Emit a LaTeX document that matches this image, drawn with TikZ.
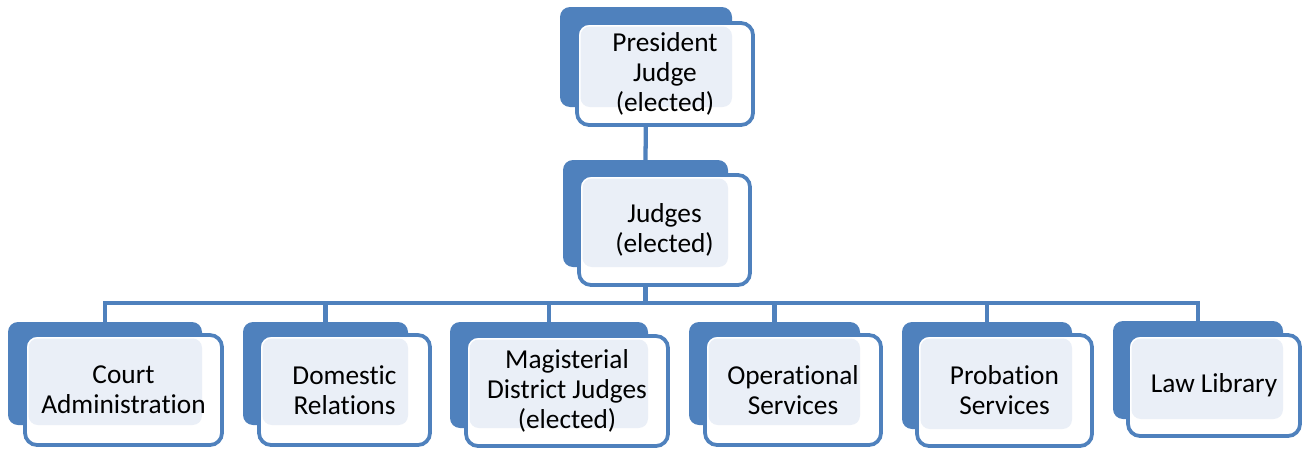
\documentclass[tikz,border=0pt]{standalone}
\usepackage{fontspec}
\setmainfont{Carlito}[Ligatures=NoCommon]
\usetikzlibrary{fit,calc,backgrounds}

\definecolor{orgblue}{HTML}{4F81BD}
\definecolor{orglight}{HTML}{EAEFF7}

\tikzset{
  backbox/.style={fill=orgblue, rounded corners=7.5pt, inner sep=0pt, outer sep=0pt},
  frontbox/.style={draw=orgblue, line width=2.8pt, rounded corners=9pt, inner sep=0pt,
    outer sep=0pt, align=center, font=\fontsize{20.5}{22.5}\selectfont},
  fsize/.style 2 args={minimum width=#1*0.75pt, minimum height=#2*0.75pt},
  link/.style={draw=orgblue, line width=3.2pt},
}

\begin{document}
\begin{tikzpicture}[x=0.75pt, y=-0.75pt]
  \useasboundingbox (0,0) rectangle (1304,450);

  % Drawing front boxes with their texts
  \node[frontbox, fsize={176}{102}] (pres) at (665,74) {President\\Judge\\(elected)};
  \node[frontbox, fsize={171}{110}] (judges) at (664.5,230) {Judges\\(elected)};
  \node[frontbox, fsize={197}{110}] (court) at (123.5,390) {Court\\Administration};
  \node[frontbox, fsize={171}{110}] (domestic) at (344.5,390) {Domestic\\Relations};
  \node[frontbox, fsize={202}{110}] (mdj) at (567,391) {Magisterial\\District Judges\\(elected)};
  \node[frontbox, fsize={176}{110}] (oper) at (793,390) {Operational\\Services};
  \node[frontbox, fsize={175}{111}] (prob) at (1004.5,390.5) {Probation\\Services};
  \node[frontbox, fsize={172}{101}] (lawlib) at (1214,385.5) {Law Library};

  \begin{pgfonlayer}{background}
    % Drawing back boxes
    \node[backbox, fit={(560,7) (732,107)}] (pres-b) {};
    \node[backbox, fit={(563,160) (728,267)}] (judges-b) {};
    \node[backbox, fit={(8,322) (202,425)}] (court-b) {};
    \node[backbox, fit={(243,322) (408,425)}] (domestic-b) {};
    \node[backbox, fit={(450,322) (648,428)}] (mdj-b) {};
    \node[backbox, fit={(689,322) (860,425)}] (oper-b) {};
    \node[backbox, fit={(902,322) (1072,429)}] (prob-b) {};
    \node[backbox, fit={(1113,321) (1283,419)}] (lawlib-b) {};

    % Drawing connectors
    \draw[link] (pres-b.south) -- (judges-b.north);
    \foreach \c in {court,domestic,mdj,oper,prob,lawlib}
      \draw[link] (judges-b.south) -- ++(0,36) -| (\c-b.north);

    % Filling front boxes
    \foreach \c in {pres,judges,court,domestic,mdj,oper,prob,lawlib} {
      \fill[white, rounded corners=9pt] (\c.north west) rectangle (\c.south east);
      \fill[orglight, rounded corners=7pt] ($(\c.north west)+(3.5,3.5)$) rectangle (\c-b.south east);
    }
  \end{pgfonlayer}
\end{tikzpicture}
\end{document}
